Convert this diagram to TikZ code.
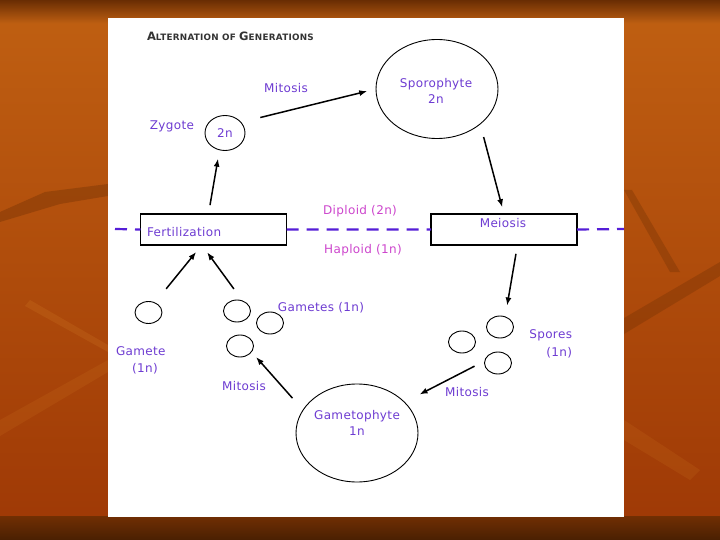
\documentclass[tikz,border=0pt]{standalone}
\usepackage{fontspec}
\setmainfont{DejaVu Sans}[LetterSpace=3]
\usetikzlibrary{shapes.geometric,arrows.meta}
\definecolor{lab}{RGB}{110,60,210}
\definecolor{ploid}{RGB}{205,70,205}
\definecolor{split}{RGB}{85,30,215}
\definecolor{bgtop}{RGB}{192,96,18}
\definecolor{bgbot}{RGB}{158,56,5}
\definecolor{band}{RGB}{105,45,3}
\definecolor{leaf}{RGB}{215,130,40}

\begin{document}
\begin{tikzpicture}[x=1pt,y=-1pt,
  every node/.style={inner sep=0pt,outer sep=0pt},
  lbl/.style={text=lab,font=\fontsize{12}{16}\selectfont},
  cell/.style={draw,ellipse,line width=0.9pt},
  orb/.style={cell,minimum width=27pt,minimum height=22pt},
  stagebox/.style={draw,rectangle,line width=1.1pt,minimum width=146pt,minimum height=31pt},
  arr/.style={-{Latex[length=8pt,width=6pt]},line width=1.5pt}]
  \useasboundingbox (0,0) rectangle (720,540);
  \shade[top color=bgtop,bottom color=bgbot] (0,0) rectangle (720,540);
  \shade[top color=band,bottom color=bgtop] (0,0) rectangle (720,24);
  \shade[top color=band!85!bgbot,bottom color=band!70!black] (0,516) rectangle (720,540);
  \fill[band,opacity=.35] (0,212) -- (45,192) -- (108,184) -- (108,196) -- (60,204) -- (0,222) -- cycle;
  \fill[leaf,opacity=.2] (30,300) -- (108,345) -- (108,352) -- (25,306) -- cycle;
  \fill[leaf,opacity=.15] (0,420) -- (108,360) -- (108,372) -- (0,436) -- cycle;
  \fill[band,opacity=.3] (624,190) -- (632,190) -- (680,272) -- (670,272) -- cycle;
  \fill[band,opacity=.3] (624,318) -- (720,262) -- (720,276) -- (624,334) -- cycle;
  \fill[leaf,opacity=.15] (624,420) -- (700,470) -- (690,480) -- (624,440) -- cycle;
  \fill[white] (108,18) rectangle (624,517);

  \node[anchor=west,text=black!80,font=\bfseries] (title) at (147,36)
    {\fontsize{11.5}{12}\selectfont A\fontsize{8.8}{12}\selectfont LTERNATION OF
     \fontsize{11.5}{12}\selectfont G\fontsize{8.8}{12}\selectfont ENERATIONS};

  \node[cell,minimum width=122pt,minimum height=99pt] (spo) at (437,89) {};
  \node[lbl,align=center] (spotxt) at (436,91) {Sporophyte\\2n};
  \node[cell,lbl,minimum width=40pt,minimum height=35pt] (zyg) at (225,133) {2n};
  \node[lbl] (zyglbl) at (172,126) {Zygote};
  \node[lbl] (mit1) at (286,88) {Mitosis};

  \node[stagebox] (fer) at (213.5,229.5) {};
  \node[lbl,anchor=west] (fertxt) at (147,232) {Fertilization};
  \node[stagebox] (mei) at (504,229.5) {};
  \node[lbl] (meitxt) at (503,223) {Meiosis};
  \node[lbl,text=ploid] (dip) at (360,211) {Diploid (2n)};
  \node[lbl,text=ploid] (hap) at (363,250) {Haploid (1n)};
  \coordinate (dl) at (115,229);
  \coordinate (dr) at (624,229);
  \draw[split,line width=2.2pt,dash pattern=on 12pt off 8pt]
    (dl) -- (fer.west) (fer.east) -- (mei.west) (mei.east) -- (dr);

  \node[orb] (gl) at (148.5,312.5) {};
  \node[orb] (gc1) at (237,311) {};
  \node[orb] (gc2) at (270,323) {};
  \node[orb] (gc3) at (240,346) {};
  \node[lbl] (gamslbl) at (321,308) {Gametes (1n)};
  \node[lbl,align=left,anchor=west,font=\fontsize{12}{17}\selectfont] (gamlbl) at (116,360.5) {Gamete\\\hspace*{16pt}(1n)};
  \node[lbl] (mit2) at (244,386) {Mitosis};

  \node[orb] (spt) at (500,327) {};
  \node[orb] (spl) at (462,342) {};
  \node[orb] (spb) at (498,363) {};
  \node[lbl,align=right,anchor=east,font=\fontsize{12}{18}\selectfont] (sporlbl) at (572,344) {Spores\\(1n)};
  \node[lbl] (mit3) at (467,392) {Mitosis};

  \node[cell,minimum width=122pt,minimum height=98pt] (gam) at (357,433) {};
  \node[lbl,align=center] (gamtxt) at (357,423) {Gametophyte\\1n};

  \draw[arr,shorten <=20pt,shorten >=9pt] (zyg.34) -- (spo.west);
  \draw[arr,shorten <=13.5pt,shorten >=7pt] (spo.-39) -- (mei.north);
  \draw[arr,shorten <=9pt,shorten >=11.5pt] (mei.-49) -- (spt.63);
  \draw[arr,shorten <=11.5pt,shorten >=17pt] (spb.171) -- (gam.33.5);
  \draw[arr,shorten <=16pt,shorten >=7pt] (gam.157) -- (gc3.-27);
  \draw[arr,shorten <=18pt,shorten >=9pt] (gl.57) -- (fer.-127);
  \draw[arr,shorten <=15pt,shorten >=9pt] (gc1.60) -- (fer.-127);
  \draw[arr,shorten <=9pt,shorten >=9pt] (fer.108) -- (zyg.-108);
\end{tikzpicture}
\end{document}
